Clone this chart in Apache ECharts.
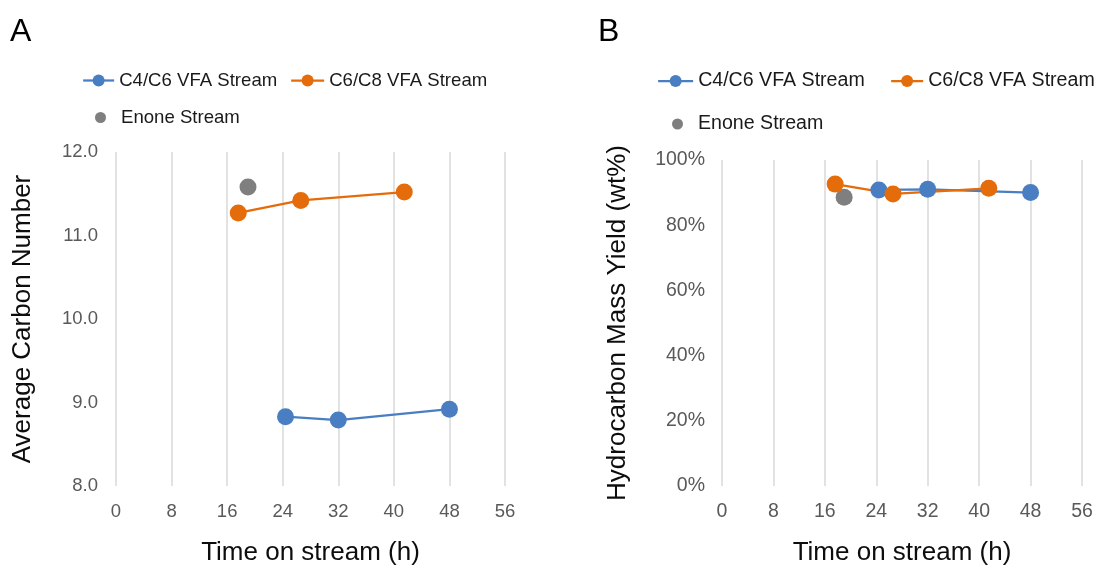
<!DOCTYPE html>
<html>
<head>
<meta charset="utf-8">
<script src="https://cdn.jsdelivr.net/npm/echarts@6/dist/echarts.min.js"></script>
<style>
html,body{margin:0;padding:0;background:#fff;}
#chart{width:1107px;height:571px;}
</style>
</head>
<body>
<div id="chart"></div>
<script>
// ---- data ----
const timeC4C6 = [24.4, 32, 48];
const carbonC4C6 = [8.83, 8.79, 8.92];
const yieldC4C6 = [90.8, 91.0, 90.0];

const timeC6C8 = [17.6, 26.6, 41.5];
const carbonC6C8 = [11.27, 11.42, 11.52];
const yieldC6C8 = [92.6, 89.6, 91.3];

const timeEnone = [19.0];
const carbonEnone = [11.58];
const yieldEnone = [88.6];

const xTicks = [0, 8, 16, 24, 32, 40, 48, 56];

const NAME_A = 'C4/C6 VFA Stream';
const NAME_B = 'C6/C8 VFA Stream';
const NAME_C = 'Enone Stream';

const BLUE = '#4A7EC2', ORANGE = '#E46C0A', GRAY = '#7F7F7F';
const FONT = 'Arial, "Liberation Sans", sans-serif';

function pairs(xs, ys){ return xs.map((x,i)=>[x, ys[i]]); }

const chart = echarts.init(document.getElementById('chart'), null, {renderer:'canvas'});

function xAxisCfg(gridIndex, labelSize){
  return {
    type:'value', gridIndex, min:xTicks[0], max:xTicks[xTicks.length-1], interval:xTicks[1]-xTicks[0],
    name:'Time on stream (h)', nameLocation:'middle', nameGap:54,
    nameTextStyle:{fontFamily:FONT, fontSize:26, color:'#0d0d0d'},
    axisLine:{show:false}, axisTick:{show:false},
    axisLabel:{fontFamily:FONT, fontSize:labelSize, color:'#595959', margin:16},
    splitLine:{show:true, lineStyle:{color:'#D9D9D9', width:1.5}}
  };
}

function legendItem(name, left, top, w, h, fontSize, isDot, color){
  return {
    data:[isDot ? {name, icon:'circle', itemStyle:{color}} : name], left, top,
    itemWidth:w, itemHeight:h, padding:0,
    lineStyle:{width:2.25},
    textStyle:{fontFamily:FONT, fontSize, color:'#1a1a1a', padding: isDot ? [0,0,0,10] : 0}
  };
}

const option = {
  animation:false,
  backgroundColor:'#fff',
  graphic:[
    {type:'text', left:10, top:16, style:{text:'A', font:'32px ' + FONT, fill:'#000'}},
    {type:'text', left:598, top:16, style:{text:'B', font:'32px ' + FONT, fill:'#000'}}
  ],
  legend:[
    legendItem(NAME_A, 82, 71, 31, 15, 18.6, false),
    legendItem(NAME_B, 290, 71, 33, 15, 18.6, false),
    legendItem(NAME_C, 95, 108, 11, 11, 18.6, true, GRAY),
    legendItem(NAME_A, 657, 71, 35, 15, 19.6, false),
    legendItem(NAME_B, 890, 71, 32, 15, 19.6, false),
    legendItem(NAME_C, 672, 114, 11, 11, 19.6, true, GRAY)
  ],
  grid:[
    {left:116, right:602, top:152, bottom:84},
    {left:722, right:25, top:160, bottom:84}
  ],
  xAxis:[xAxisCfg(0, 18.5), xAxisCfg(1, 19.5)],
  yAxis:[
    {type:'value', gridIndex:0, min:8, max:12, interval:1,
     name:'Average Carbon Number', nameLocation:'middle', nameGap:80, nameRotate:90,
     nameTextStyle:{fontFamily:FONT, fontSize:26, color:'#0d0d0d'},
     axisLine:{show:false}, axisTick:{show:false}, splitLine:{show:false},
     axisLabel:{fontFamily:FONT, fontSize:18.5, color:'#595959', margin:18, formatter:v=>v.toFixed(1)}},
    {type:'value', gridIndex:1, min:0, max:100, interval:20,
     name:'Hydrocarbon Mass Yield (wt%)', nameLocation:'middle', nameGap:91, nameRotate:90,
     nameTextStyle:{fontFamily:FONT, fontSize:26, color:'#0d0d0d'},
     axisLine:{show:false}, axisTick:{show:false}, splitLine:{show:false},
     axisLabel:{fontFamily:FONT, fontSize:19.5, color:'#595959', margin:17, formatter:'{value}%'}}
  ],
  series:[
    {name:NAME_A, type:'line', xAxisIndex:0, yAxisIndex:0, data:pairs(timeC4C6, carbonC4C6),
     symbol:'circle', symbolSize:17, lineStyle:{color:BLUE, width:2.25}, itemStyle:{color:BLUE}},
    {name:NAME_B, type:'line', xAxisIndex:0, yAxisIndex:0, data:pairs(timeC6C8, carbonC6C8),
     symbol:'circle', symbolSize:17, lineStyle:{color:ORANGE, width:2.25}, itemStyle:{color:ORANGE}},
    {name:NAME_C, type:'scatter', xAxisIndex:0, yAxisIndex:0, data:pairs(timeEnone, carbonEnone),
     symbol:'circle', symbolSize:17, itemStyle:{color:GRAY, opacity:1}},
    {name:NAME_A, type:'line', xAxisIndex:1, yAxisIndex:1, data:pairs(timeC4C6, yieldC4C6),
     symbol:'circle', symbolSize:17, lineStyle:{color:BLUE, width:2.25}, itemStyle:{color:BLUE}},
    {name:NAME_B, type:'line', xAxisIndex:1, yAxisIndex:1, data:pairs(timeC6C8, yieldC6C8),
     symbol:'circle', symbolSize:17, lineStyle:{color:ORANGE, width:2.25}, itemStyle:{color:ORANGE}},
    {name:NAME_C, type:'scatter', xAxisIndex:1, yAxisIndex:1, data:pairs(timeEnone, yieldEnone),
     symbol:'circle', symbolSize:17, itemStyle:{color:GRAY, opacity:1}}
  ]
};
chart.setOption(option);
</script>
</body>
</html>
